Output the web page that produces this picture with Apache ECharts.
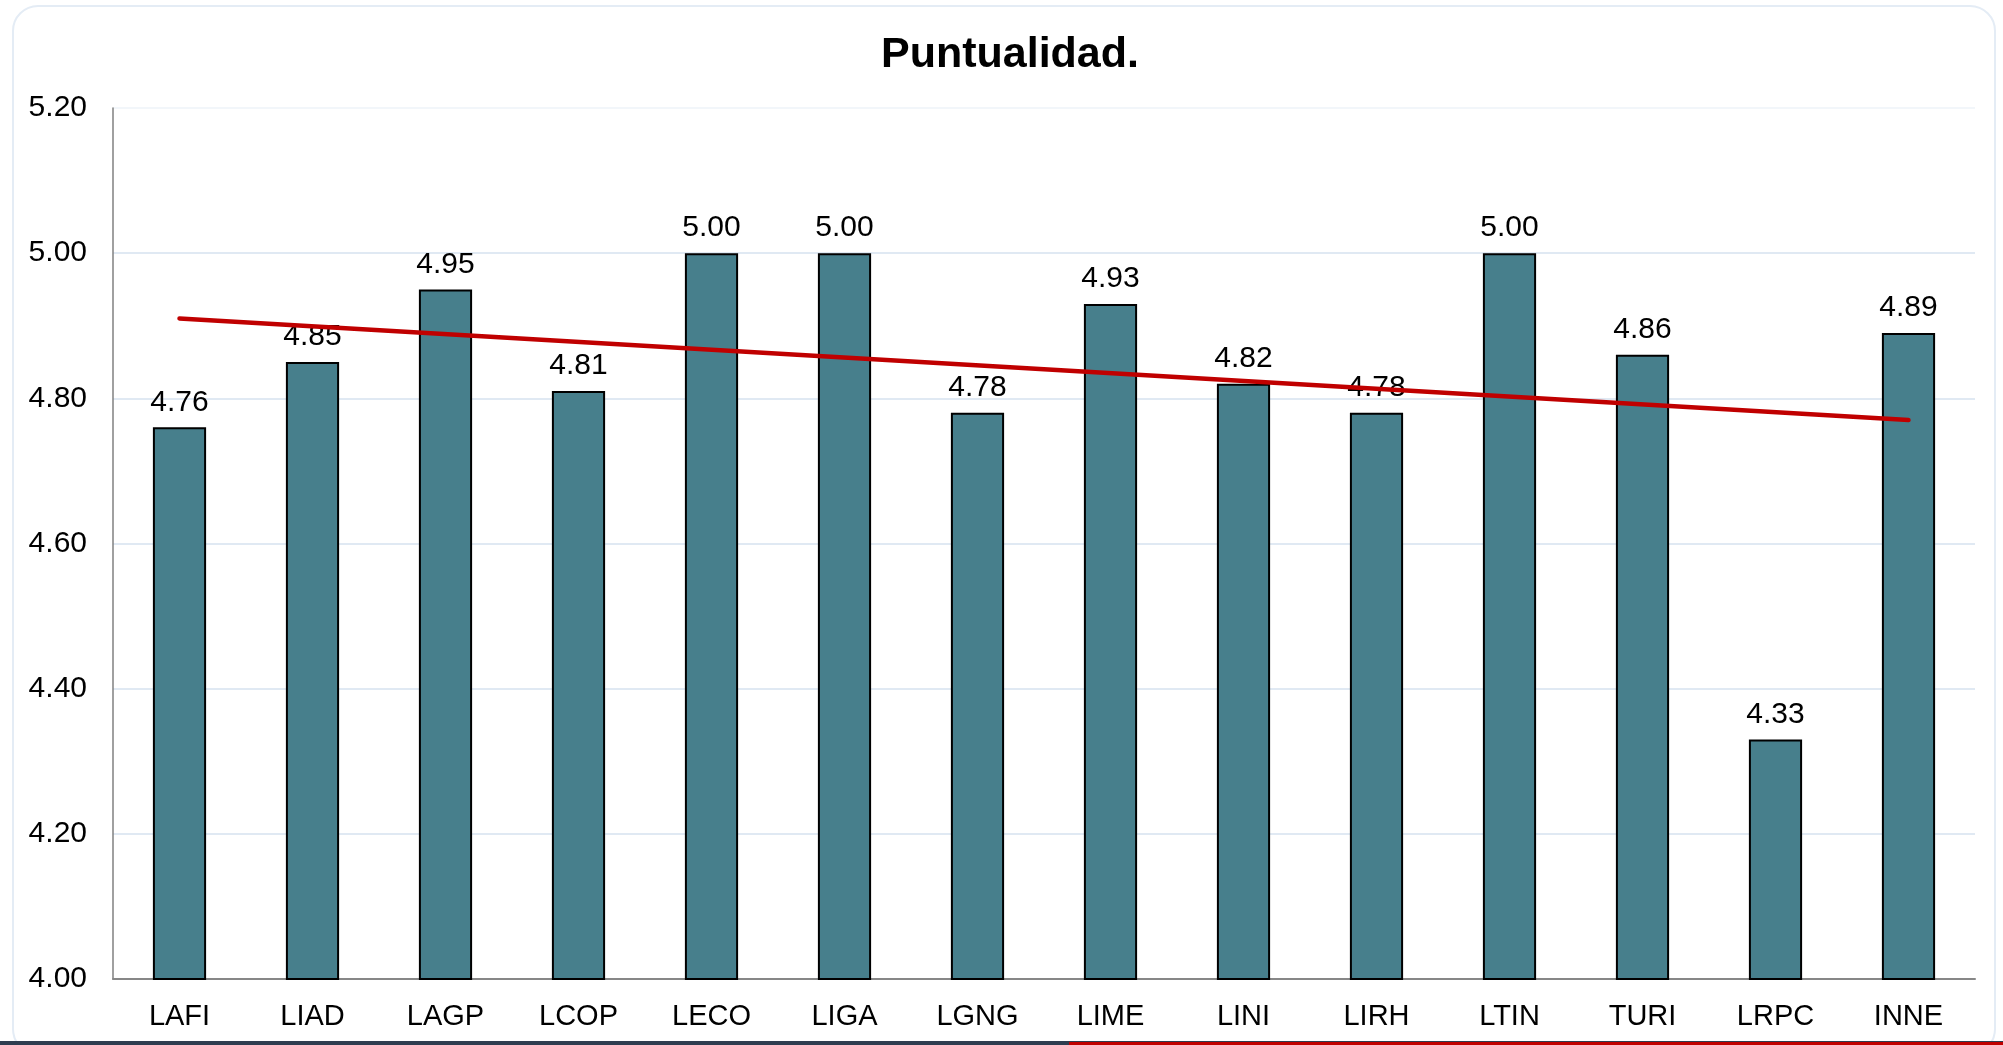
<!DOCTYPE html>
<html>
<head>
<meta charset="utf-8">
<script src="https://cdn.jsdelivr.net/npm/echarts@6/dist/echarts.min.js"></script>
<style>
    html, body { margin: 0; padding: 0; background: #fff; }
    body { width: 2003px; height: 1045px; position: relative; overflow: hidden; }
    #card {
        position: absolute; left: 12px; top: 5px; width: 1984px; height: 1050px;
        border: 2px solid #e4ecf5; border-radius: 26px; box-sizing: border-box;
    }
    #strip-dark { position: absolute; left: 0; bottom: 0; width: 2003px; height: 4px; background: #2e3d50; }
    #strip-red { position: absolute; left: 1069px; bottom: 0; width: 934px; height: 3px; background: #c00000; }
    #chart { position: absolute; left: 0; top: 0; width: 2003px; height: 1045px; }
</style>
</head>
<body>
<div id="card"></div>
<div id="strip-dark"></div>
<div id="strip-red"></div>
<div id="chart"></div>
<script>
const categories = ["LAFI", "LIAD", "LAGP", "LCOP", "LECO", "LIGA", "LGNG", "LIME", "LINI", "LIRH", "LTIN", "TURI", "LRPC", "INNE"];
const scores = [4.76, 4.85, 4.95, 4.81, 5.00, 5.00, 4.78, 4.93, 4.82, 4.78, 5.00, 4.86, 4.33, 4.89];
// trend line: start at LAFI, end at INNE
const trend = [4.91, null, null, null, null, null, null, null, null, null, null, null, null, 4.77];

function drawChart() {
    let myChart = echarts.init(document.querySelector("#chart"));
    const option = {
        animation: false,
        title: {
            text: "Puntualidad.",
            left: 1005,
            textAlign: "center",
            top: 29,
            textStyle: {
                fontFamily: "Liberation Sans",
                fontSize: 43,
                fontWeight: "bold",
                color: "#000",
            },
        },
        grid: {
            left: 113,
            right: 28,
            top: 108,
            bottom: 66,
            containLabel: false,
        },
        xAxis: {
            type: "category",
            data: categories,
            axisLine: { lineStyle: { color: "#878787", width: 2 } },
            axisTick: { show: false },
            axisLabel: {
                fontFamily: "Liberation Sans",
                fontSize: 29,
                color: "#000",
                margin: 23,
            },
        },
        yAxis: {
            type: "value",
            min: 4,
            max: 5.2,
            interval: 0.2,
            axisLine: { show: true, lineStyle: { color: "#808080", width: 1.5 } },
            axisTick: { show: false },
            axisLabel: {
                fontFamily: "Liberation Sans",
                fontSize: 30,
                color: "#000",
                margin: 26,
                formatter: (v) => v.toFixed(2),
            },
            splitLine: {
                lineStyle: {
                    color: ["#d6e2ef", "#d6e2ef", "#d6e2ef", "#d6e2ef", "#d6e2ef", "#d6e2ef", "#eef3f9"],
                    width: 1.5,
                },
            },
        },
        series: [
            {
                name: "Puntualidad",
                type: "bar",
                data: scores,
                barWidth: "40%",
                itemStyle: {
                    color: "#477f8c",
                    borderColor: "#000",
                    borderWidth: 2,
                },
                label: {
                    show: true,
                    position: "top",
                    distance: 10,
                    fontFamily: "Liberation Sans",
                    fontSize: 30,
                    color: "#000",
                    formatter: (p) => p.value.toFixed(2),
                },
            },
            {
                name: "Tendencia",
                type: "line",
                data: trend,
                connectNulls: true,
                showSymbol: false,
                symbol: "none",
                z: 5,
                lineStyle: {
                    color: "#c00000",
                    width: 4.5,
                    cap: "round",
                },
            },
        ],
    };
    myChart.setOption(option);
    window.addEventListener("resize", function () {
        myChart.resize();
    });
}

drawChart();
</script>
</body>
</html>
